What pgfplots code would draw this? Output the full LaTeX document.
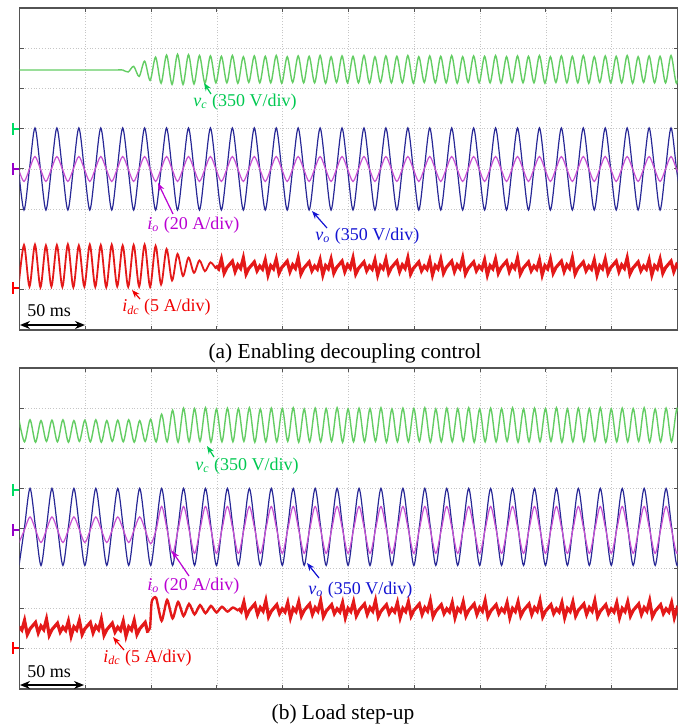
\documentclass[border=0pt]{standalone}
\usepackage{pgfplots}
\pgfplotsset{compat=1.18}
\usepackage{pgfplotstable}
\usepackage{fontspec}
\setmainfont{Liberation Serif}
\usetikzlibrary{arrows.meta}
\definecolor{cvc}{RGB}{100,205,100}
\definecolor{cvo}{RGB}{40,40,150}
\definecolor{cio}{RGB}{200,80,210}
\definecolor{cidc}{RGB}{228,25,25}
\definecolor{tvc}{RGB}{0,200,80}
\definecolor{tvo}{RGB}{20,20,210}
\definecolor{tio}{RGB}{185,0,210}
\definecolor{tidc}{RGB}{240,0,0}
\definecolor{mgreen}{RGB}{0,220,100}
\definecolor{mpurple}{RGB}{150,0,200}

% panel (a): k = quarter period of v_o (1/12 div), columns k vo io vc
\pgfplotstableread{
k vo io vc
-3 4.00 4.00 6.46
-2 2.98 3.69 6.46
-1 4.00 4.00 6.46
0 5.02 4.31 6.46
1 4.00 4.00 6.46
2 2.98 3.69 6.46
3 4.00 4.00 6.46
4 5.02 4.31 6.46
5 4.00 4.00 6.46
6 2.98 3.69 6.46
7 4.00 4.00 6.46
8 5.02 4.31 6.46
9 4.00 4.00 6.46
10 2.98 3.69 6.46
11 4.00 4.00 6.46
12 5.02 4.31 6.46
13 4.00 4.00 6.46
14 2.98 3.69 6.46
15 4.00 4.00 6.46
16 5.02 4.31 6.46
17 4.00 4.00 6.41
18 2.98 3.69 6.55
19 4.00 4.00 6.30
20 5.02 4.31 6.68
21 4.00 4.00 6.20
22 2.98 3.69 6.78
23 4.00 4.00 6.13
24 5.02 4.31 6.83
25 4.00 4.00 6.10
26 2.98 3.69 6.85
27 4.00 4.00 6.10
28 5.02 4.31 6.84
29 4.00 4.00 6.11
30 2.98 3.69 6.82
31 4.00 4.00 6.13
32 5.02 4.31 6.81
33 4.00 4.00 6.14
34 2.98 3.69 6.80
35 4.00 4.00 6.14
36 5.02 4.31 6.82
37 4.00 4.00 6.13
38 2.98 3.69 6.79
39 4.00 4.00 6.15
40 5.02 4.31 6.81
41 4.00 4.00 6.14
42 2.98 3.69 6.80
43 4.00 4.00 6.14
44 5.02 4.31 6.82
45 4.00 4.00 6.13
46 2.98 3.69 6.79
47 4.00 4.00 6.15
48 5.02 4.31 6.81
49 4.00 4.00 6.14
50 2.98 3.69 6.80
51 4.00 4.00 6.14
52 5.02 4.31 6.82
53 4.00 4.00 6.13
54 2.98 3.69 6.79
55 4.00 4.00 6.15
56 5.02 4.31 6.81
57 4.00 4.00 6.14
58 2.98 3.69 6.80
59 4.00 4.00 6.14
60 5.02 4.31 6.82
61 4.00 4.00 6.13
62 2.98 3.69 6.79
63 4.00 4.00 6.15
64 5.02 4.31 6.81
65 4.00 4.00 6.14
66 2.98 3.69 6.80
67 4.00 4.00 6.14
68 5.02 4.31 6.82
69 4.00 4.00 6.13
70 2.98 3.69 6.79
71 4.00 4.00 6.15
72 5.02 4.31 6.81
73 4.00 4.00 6.14
74 2.98 3.69 6.80
75 4.00 4.00 6.14
76 5.02 4.31 6.82
77 4.00 4.00 6.13
78 2.98 3.69 6.79
79 4.00 4.00 6.15
80 5.02 4.31 6.81
81 4.00 4.00 6.14
82 2.98 3.69 6.80
83 4.00 4.00 6.14
84 5.02 4.31 6.82
85 4.00 4.00 6.13
86 2.98 3.69 6.79
87 4.00 4.00 6.15
88 5.02 4.31 6.81
89 4.00 4.00 6.14
90 2.98 3.69 6.80
91 4.00 4.00 6.14
92 5.02 4.31 6.82
93 4.00 4.00 6.13
94 2.98 3.69 6.79
95 4.00 4.00 6.15
96 5.02 4.31 6.81
97 4.00 4.00 6.14
98 2.98 3.69 6.80
99 4.00 4.00 6.14
100 5.02 4.31 6.82
101 4.00 4.00 6.13
102 2.98 3.69 6.79
103 4.00 4.00 6.15
104 5.02 4.31 6.81
105 4.00 4.00 6.14
106 2.98 3.69 6.80
107 4.00 4.00 6.14
108 5.02 4.31 6.82
109 4.00 4.00 6.13
110 2.98 3.69 6.79
111 4.00 4.00 6.15
112 5.02 4.31 6.81
113 4.00 4.00 6.14
114 2.98 3.69 6.80
115 4.00 4.00 6.14
116 5.02 4.31 6.82
117 4.00 4.00 6.13
118 2.98 3.69 6.79
}\tabA

% panel (b)
\pgfplotstableread{
k vo io vc
-2 3.08 3.65 6.70
-1 4.04 3.97 6.16
0 5.00 4.29 6.71
1 4.04 3.97 6.15
2 3.08 3.65 6.69
3 4.04 3.97 6.17
4 5.00 4.29 6.70
5 4.04 3.97 6.16
6 3.08 3.65 6.71
7 4.04 3.97 6.15
8 5.00 4.29 6.69
9 4.04 3.97 6.17
10 3.08 3.65 6.70
11 4.04 3.97 6.16
12 5.00 4.29 6.71
13 4.04 3.97 6.15
14 3.08 3.65 6.69
15 4.04 3.97 6.17
16 5.00 4.29 6.70
17 4.04 3.97 6.16
18 3.08 3.65 6.71
19 4.04 3.97 6.15
20 5.00 4.29 6.69
21 4.04 3.97 6.17
22 3.08 3.62 6.72
23 4.04 3.97 6.16
24 5.00 4.55 6.85
25 4.04 3.97 6.16
26 3.08 3.38 6.95
27 4.04 3.97 6.15
28 5.00 4.55 7.00
29 4.04 3.97 6.16
30 3.08 3.38 6.99
31 4.04 3.97 6.17
32 5.00 4.55 7.01
33 4.04 3.97 6.15
34 3.08 3.38 6.98
35 4.04 3.97 6.16
36 5.00 4.55 7.00
37 4.04 3.97 6.16
38 3.08 3.38 6.99
39 4.04 3.97 6.17
40 5.00 4.55 7.01
41 4.04 3.97 6.15
42 3.08 3.38 6.98
43 4.04 3.97 6.16
44 5.00 4.55 7.00
45 4.04 3.97 6.16
46 3.08 3.38 6.99
47 4.04 3.97 6.17
48 5.00 4.55 7.01
49 4.04 3.97 6.15
50 3.08 3.38 6.98
51 4.04 3.97 6.16
52 5.00 4.55 7.00
53 4.04 3.97 6.16
54 3.08 3.38 6.99
55 4.04 3.97 6.17
56 5.00 4.55 7.01
57 4.04 3.97 6.15
58 3.08 3.38 6.98
59 4.04 3.97 6.16
60 5.00 4.55 7.00
61 4.04 3.97 6.16
62 3.08 3.38 6.99
63 4.04 3.97 6.17
64 5.00 4.55 7.01
65 4.04 3.97 6.15
66 3.08 3.38 6.98
67 4.04 3.97 6.16
68 5.00 4.55 7.00
69 4.04 3.97 6.16
70 3.08 3.38 6.99
71 4.04 3.97 6.17
72 5.00 4.55 7.01
73 4.04 3.97 6.15
74 3.08 3.38 6.98
75 4.04 3.97 6.16
76 5.00 4.55 7.00
77 4.04 3.97 6.16
78 3.08 3.38 6.99
79 4.04 3.97 6.17
80 5.00 4.55 7.01
81 4.04 3.97 6.15
82 3.08 3.38 6.98
83 4.04 3.97 6.16
84 5.00 4.55 7.00
85 4.04 3.97 6.16
86 3.08 3.38 6.99
87 4.04 3.97 6.17
88 5.00 4.55 7.01
89 4.04 3.97 6.15
90 3.08 3.38 6.98
91 4.04 3.97 6.16
92 5.00 4.55 7.00
93 4.04 3.97 6.16
94 3.08 3.38 6.99
95 4.04 3.97 6.17
96 5.00 4.55 7.01
97 4.04 3.97 6.15
98 3.08 3.38 6.98
99 4.04 3.97 6.16
100 5.00 4.55 7.00
101 4.04 3.97 6.16
102 3.08 3.38 6.99
103 4.04 3.97 6.17
104 5.00 4.55 7.01
105 4.04 3.97 6.15
106 3.08 3.38 6.98
107 4.04 3.97 6.16
108 5.00 4.55 7.00
109 4.04 3.97 6.16
110 3.08 3.38 6.99
111 4.04 3.97 6.17
112 5.00 4.55 7.01
113 4.04 3.97 6.15
114 3.08 3.38 6.98
115 4.04 3.97 6.16
116 5.00 4.55 7.00
117 4.04 3.97 6.16
118 3.08 3.38 6.99
119 4.04 3.97 6.17
}\tabB

\pgfplotsset{scopeaxis/.style={
  scale only axis, width=329pt, anchor=south west,
  ymin=0, ymax=8, ytick={0,1,...,8},
  xticklabels={}, yticklabels={},
  grid=major, grid style={densely dotted, gray!45, line width=0.4pt},
  axis line style={gray!65!black, line width=0.6pt},
  major tick length=2pt, tick style={gray!65!black, line width=0.5pt},
}}

\begin{document}
\begin{tikzpicture}
\path[use as bounding box] (0,0) rectangle (345pt,-363pt);

% ---------- panel (a)
\begin{axis}[scopeaxis, at={(9.75pt,-165pt)}, height=161pt,
  xmin=-2.82, xmax=117.18,
  xtick={-2.82,9.18,21.18,33.18,45.18,57.18,69.18,81.18,93.18,105.18,117.18}]
\addplot[cvc, line width=0.7pt, smooth] table[x=k, y=vc] {\tabA};
\addplot[cvo, line width=0.6pt, smooth] table[x=k, y=vo] {\tabA};
\addplot[cio, line width=0.6pt, smooth] table[x=k, y=io] {\tabA};
\addplot[cidc, line width=0.9pt, smooth] coordinates {
(-3,1.07)(-2,2.11)(-1,1.08)(0,2.12)(1,1.06)(2,2.10)(3,1.08)(4,2.11)(5,1.07)(6,2.13)
(7,1.06)(8,2.10)(9,1.08)(10,2.12)(11,1.07)(12,2.11)(13,1.06)(14,2.12)(15,1.08)(16,2.10)
(17,1.07)(18,2.11)(19,1.08)(20,2.12)(21,1.07)(22,2.09)(23,1.13)(24,2.01)(25,1.23)(26,1.89)
(27,1.34)(28,1.80)(29,1.42)(30,1.73)(31,1.46)(32,1.68)(33,1.52)};
\addplot[cidc, line width=1.6pt] coordinates {
(33,1.60)(33.5,1.52)(34,1.76)(34.5,1.41)(35,1.55)(35.5,1.63)(36,1.71)(36.5,1.45)
(37,1.62)(37.5,1.53)(38,1.79)(38.5,1.39)(39,1.53)(39.5,1.61)(40,1.69)(40.5,1.47)
(41,1.59)(41.5,1.51)(42,1.74)(42.5,1.37)(43,1.60)(43.5,1.52)(44,1.76)(44.5,1.41)
(45,1.55)(45.5,1.63)(46,1.71)(46.5,1.45)(47,1.62)(47.5,1.53)(48,1.79)(48.5,1.39)
(49,1.53)(49.5,1.61)(50,1.69)(50.5,1.47)(51,1.59)(51.5,1.51)(52,1.74)(52.5,1.37)
(53,1.60)(53.5,1.52)(54,1.76)(54.5,1.41)(55,1.55)(55.5,1.63)(56,1.71)(56.5,1.45)
(57,1.62)(57.5,1.53)(58,1.79)(58.5,1.39)(59,1.53)(59.5,1.61)(60,1.69)(60.5,1.47)
(61,1.59)(61.5,1.51)(62,1.74)(62.5,1.37)(63,1.60)(63.5,1.52)(64,1.76)(64.5,1.41)
(65,1.55)(65.5,1.63)(66,1.71)(66.5,1.45)(67,1.62)(67.5,1.53)(68,1.79)(68.5,1.39)
(69,1.53)(69.5,1.61)(70,1.69)(70.5,1.47)(71,1.59)(71.5,1.51)(72,1.74)(72.5,1.37)
(73,1.60)(73.5,1.52)(74,1.76)(74.5,1.41)(75,1.55)(75.5,1.63)(76,1.71)(76.5,1.45)
(77,1.62)(77.5,1.53)(78,1.79)(78.5,1.39)(79,1.53)(79.5,1.61)(80,1.69)(80.5,1.47)
(81,1.59)(81.5,1.51)(82,1.74)(82.5,1.37)(83,1.60)(83.5,1.52)(84,1.76)(84.5,1.41)
(85,1.55)(85.5,1.63)(86,1.71)(86.5,1.45)(87,1.62)(87.5,1.53)(88,1.79)(88.5,1.39)
(89,1.53)(89.5,1.61)(90,1.69)(90.5,1.47)(91,1.59)(91.5,1.51)(92,1.74)(92.5,1.37)
(93,1.60)(93.5,1.52)(94,1.76)(94.5,1.41)(95,1.55)(95.5,1.63)(96,1.71)(96.5,1.45)
(97,1.62)(97.5,1.53)(98,1.79)(98.5,1.39)(99,1.53)(99.5,1.61)(100,1.69)(100.5,1.47)
(101,1.59)(101.5,1.51)(102,1.74)(102.5,1.37)(103,1.60)(103.5,1.52)(104,1.76)(104.5,1.41)
(105,1.55)(105.5,1.63)(106,1.71)(106.5,1.45)(107,1.62)(107.5,1.53)(108,1.79)(108.5,1.39)
(109,1.53)(109.5,1.61)(110,1.69)(110.5,1.47)(111,1.59)(111.5,1.51)(112,1.74)(112.5,1.37)
(113,1.60)(113.5,1.52)(114,1.76)(114.5,1.41)(115,1.55)(115.5,1.63)(116,1.71)(116.5,1.45)
(117,1.62)(117.5,1.53)(118,1.79)(118.5,1.39)};
\end{axis}

% ---------- panel (b)
\begin{axis}[scopeaxis, at={(9.75pt,-344.5pt)}, height=160.5pt,
  xmin=-1.92, xmax=118.08,
  xtick={-1.92,10.08,22.08,34.08,46.08,58.08,70.08,82.08,94.08,106.08,118.08}]
\addplot[cvc, line width=0.7pt, smooth] table[x=k, y=vc] {\tabB};
\addplot[cvo, line width=0.6pt, smooth] table[x=k, y=vo] {\tabB};
\addplot[cio, line width=0.6pt, smooth] table[x=k, y=io] {\tabB};
\addplot[cidc, line width=1.6pt] coordinates {
(-2,1.55)(-1.5,1.47)(-1,1.71)(-0.5,1.36)(0,1.50)(0.5,1.58)(1,1.66)(1.5,1.40)
(2,1.57)(2.5,1.48)(3,1.74)(3.5,1.34)(4,1.48)(4.5,1.56)(5,1.64)(5.5,1.42)
(6,1.54)(6.5,1.46)(7,1.69)(7.5,1.32)(8,1.55)(8.5,1.47)(9,1.71)(9.5,1.36)
(10,1.50)(10.5,1.58)(11,1.66)(11.5,1.40)(12,1.57)(12.5,1.48)(13,1.74)(13.5,1.34)
(14,1.48)(14.5,1.56)(15,1.64)(15.5,1.42)(16,1.54)(16.5,1.46)(17,1.69)(17.5,1.32)
(18,1.55)(18.5,1.47)(19,1.71)(19.5,1.36)(20,1.50)(20.5,1.58)(21,1.66)(21.5,1.40)};
\addplot[cidc, line width=1.2pt, smooth, tension=0.4] coordinates {
(21.5,1.45)(21.9,1.55)(22.2,2.18)(23,2.27)(24,1.70)(25,2.22)(26,1.76)(27,2.17)(28,1.82)
(29,2.12)(30,1.86)(31,2.09)(32,1.89)(33,2.07)(34,1.91)(35,2.05)(36,1.93)(37,2.03)(38,1.95)};
\addplot[cidc, line width=1.6pt] coordinates {
(38,2.01)(38.5,1.93)(39,2.17)(39.5,1.82)(40,1.96)(40.5,2.04)(41,2.12)(41.5,1.86)
(42,2.03)(42.5,1.94)(43,2.20)(43.5,1.80)(44,1.94)(44.5,2.02)(45,2.10)(45.5,1.88)
(46,2.00)(46.5,1.92)(47,2.15)(47.5,1.78)(48,2.01)(48.5,1.93)(49,2.17)(49.5,1.82)
(50,1.96)(50.5,2.04)(51,2.12)(51.5,1.86)(52,2.03)(52.5,1.94)(53,2.20)(53.5,1.80)
(54,1.94)(54.5,2.02)(55,2.10)(55.5,1.88)(56,2.00)(56.5,1.92)(57,2.15)(57.5,1.78)
(58,2.01)(58.5,1.93)(59,2.17)(59.5,1.82)(60,1.96)(60.5,2.04)(61,2.12)(61.5,1.86)
(62,2.03)(62.5,1.94)(63,2.20)(63.5,1.80)(64,1.94)(64.5,2.02)(65,2.10)(65.5,1.88)
(66,2.00)(66.5,1.92)(67,2.15)(67.5,1.78)(68,2.01)(68.5,1.93)(69,2.17)(69.5,1.82)
(70,1.96)(70.5,2.04)(71,2.12)(71.5,1.86)(72,2.03)(72.5,1.94)(73,2.20)(73.5,1.80)
(74,1.94)(74.5,2.02)(75,2.10)(75.5,1.88)(76,2.00)(76.5,1.92)(77,2.15)(77.5,1.78)
(78,2.01)(78.5,1.93)(79,2.17)(79.5,1.82)(80,1.96)(80.5,2.04)(81,2.12)(81.5,1.86)
(82,2.03)(82.5,1.94)(83,2.20)(83.5,1.80)(84,1.94)(84.5,2.02)(85,2.10)(85.5,1.88)
(86,2.00)(86.5,1.92)(87,2.15)(87.5,1.78)(88,2.01)(88.5,1.93)(89,2.17)(89.5,1.82)
(90,1.96)(90.5,2.04)(91,2.12)(91.5,1.86)(92,2.03)(92.5,1.94)(93,2.20)(93.5,1.80)
(94,1.94)(94.5,2.02)(95,2.10)(95.5,1.88)(96,2.00)(96.5,1.92)(97,2.15)(97.5,1.78)
(98,2.01)(98.5,1.93)(99,2.17)(99.5,1.82)(100,1.96)(100.5,2.04)(101,2.12)(101.5,1.86)
(102,2.03)(102.5,1.94)(103,2.20)(103.5,1.80)(104,1.94)(104.5,2.02)(105,2.10)(105.5,1.88)
(106,2.00)(106.5,1.92)(107,2.15)(107.5,1.78)(108,2.01)(108.5,1.93)(109,2.17)(109.5,1.82)
(110,1.96)(110.5,2.04)(111,2.12)(111.5,1.86)(112,2.03)(112.5,1.94)(113,2.20)(113.5,1.80)
(114,1.94)(114.5,2.02)(115,2.10)(115.5,1.88)(116,2.00)(116.5,1.92)(117,2.15)(117.5,1.78)
(118,2.01)(118.5,1.93)(119,2.17)(119.5,1.82)};
\end{axis}

% ---------- annotations (pixel coordinates, y downwards)
\begin{scope}[x=0.5pt, y=-0.5pt]
\tikzset{lab/.style={anchor=base west, inner sep=0pt, font=\fontsize{9}{10}\selectfont},
         arr/.style={-{Stealth[length=4pt,width=3pt]}, line width=0.6pt}}
% channel markers (a)
\draw[mgreen, line width=1.2pt] (13,123)--(13,135); \draw[mgreen, line width=1pt] (13,129)--(19,129);
\draw[mpurple, line width=1.2pt] (13,163)--(13,175); \draw[mpurple, line width=1pt] (13,169)--(19,169);
\draw[red, line width=1.2pt] (13,282)--(13,294); \draw[red, line width=1pt] (13,288)--(19,288);
% channel markers (b)
\draw[mgreen, line width=1.2pt] (13,484)--(13,496); \draw[mgreen, line width=1pt] (13,490)--(19,490);
\draw[mpurple, line width=1.2pt] (13,524)--(13,536); \draw[mpurple, line width=1pt] (13,530)--(19,530);
\draw[red, line width=1.2pt] (13,642)--(13,654); \draw[red, line width=1pt] (13,648)--(19,648);

% labels (a)
\node[lab, tvc] at (193,107) {\textit{v}\textsubscript{\textit{c}} (350 V/div)};
\draw[arr, tvc] (211,94) -- (204,83);
\node[lab, tio] at (147,230) {\textit{i}\textsubscript{\textit{o}} (20 A/div)};
\draw[arr, tio] (173,214) -- (158,183);
\node[lab, tvo] at (315,241) {\textit{v}\textsubscript{\textit{o}} (350 V/div)};
\draw[arr, tvo] (327,228) -- (312,211);
\node[lab, tidc] at (122,312) {\textit{i}\textsubscript{\textit{dc}} (5 A/div)};
\draw[arr, tidc] (140,299) -- (132,290);
\node[lab, black] at (27,317) {50 ms};
\draw[{Stealth[length=5pt,width=4pt]}-{Stealth[length=5pt,width=4pt]}, line width=0.8pt] (20,325) -- (85,325);
\node[anchor=base, inner sep=0pt, font=\fontsize{10.7}{12}\selectfont] at (345,358) {(a) Enabling decoupling control};

% labels (b)
\node[lab, tvc] at (195,470) {\textit{v}\textsubscript{\textit{c}} (350 V/div)};
\draw[arr, tvc] (214,457) -- (207,446);
\node[lab, tio] at (147,590) {\textit{i}\textsubscript{\textit{o}} (20 A/div)};
\draw[arr, tio] (189,576) -- (172,551);
\node[lab, tvo] at (308,594) {\textit{v}\textsubscript{\textit{o}} (350 V/div)};
\draw[arr, tvo] (319,578) -- (307,563);
\node[lab, tidc] at (103,662) {\textit{i}\textsubscript{\textit{dc}} (5 A/div)};
\draw[arr, tidc] (124,650) -- (113,637);
\node[lab, black] at (27,677) {50 ms};
\draw[{Stealth[length=5pt,width=4pt]}-{Stealth[length=5pt,width=4pt]}, line width=0.8pt] (20,685) -- (84,685);
\node[anchor=base, inner sep=0pt, font=\fontsize{10.7}{12}\selectfont] at (343,719) {(b) Load step-up};
\end{scope}
\end{tikzpicture}
\end{document}
